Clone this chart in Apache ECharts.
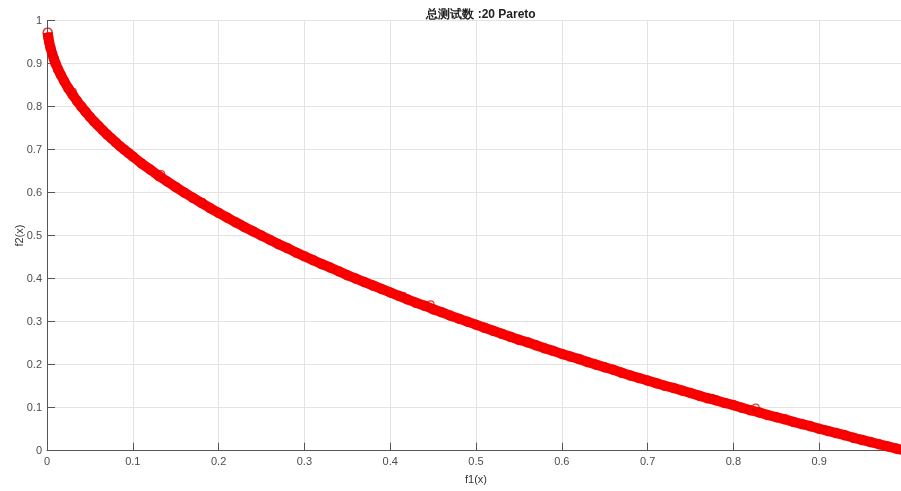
<!DOCTYPE html>
<html>
<head>
<meta charset="utf-8">
<script src="https://cdn.jsdelivr.net/npm/echarts@6/dist/echarts.min.js"></script>
<style>html,body{margin:0;padding:0;background:#fff;}#c{width:901px;height:491px;}</style>
</head>
<body>
<div id="c"></div>
<script>
// Pareto front points
var f1 = [0.0008,0.0015,0.0025,0.004,0.006,0.008,0.01,0.013,0.016,0.02,0.025,0.03,0.035,0.04,0.045,0.05,0.055,0.06,0.065,0.07,0.075,0.08,0.085,0.09,0.095,
0.10,0.11,0.12,0.13,0.14,0.15,0.16,0.17,0.18,0.19,0.20,0.21,0.22,0.23,0.24,0.25,0.26,0.27,0.28,0.29,0.30,0.31,0.32,0.33,0.34,0.35,0.36,0.37,0.38,0.39,
0.40,0.41,0.42,0.43,0.44,0.45,0.46,0.47,0.48,0.49,0.50,0.51,0.52,0.53,0.54,0.55,0.56,0.57,0.58,0.59,0.60,0.61,0.62,0.63,0.64,0.65,0.66,0.67,0.68,0.69,
0.70,0.71,0.72,0.73,0.74,0.75,0.76,0.77,0.78,0.79,0.80,0.81,0.82,0.83,0.84,0.85,0.86,0.87,0.88,0.89,0.90,0.91,0.92,0.93,0.94,0.95,0.96,0.97,0.98,0.99,1.00];
var f2 = [0.972,0.961,0.950,0.937,0.923,0.911,0.900,0.886,0.874,0.859,0.842,0.827,0.813,0.800,0.788,0.776,0.765,0.755,0.745,0.735,0.726,0.717,0.708,0.700,0.692,
0.684,0.668,0.654,0.639,0.626,0.613,0.600,0.588,0.576,0.564,0.553,0.542,0.531,0.520,0.510,0.500,0.490,0.480,0.471,0.461,0.452,0.443,0.434,0.426,0.417,0.408,0.400,0.392,0.384,0.376,
0.368,0.360,0.352,0.344,0.337,0.329,0.322,0.314,0.307,0.300,0.293,0.286,0.279,0.272,0.265,0.258,0.252,0.245,0.238,0.232,0.225,0.219,0.213,0.206,0.200,0.194,0.188,0.181,0.175,0.169,
0.163,0.157,0.151,0.146,0.140,0.134,0.128,0.122,0.117,0.111,0.106,0.100,0.094,0.089,0.083,0.078,0.073,0.067,0.062,0.057,0.051,0.046,0.041,0.036,0.030,0.025,0.020,0.015,0.010,0.005,0.000];
// scattered individual circles slightly off the band
var outF1 = [0.006,0.03,0.133,0.181,0.225,0.415,0.447,0.775,0.826,0.905];
var outF2 = [0.925,0.835,0.643,0.578,0.528,0.360,0.340,0.123,0.100,0.050];
var xTicks = [0,0.1,0.2,0.3,0.4,0.5,0.6,0.7,0.8,0.9,1];
var titleText = '总测试数 :20 Pareto';

var front = f1.map(function(v,i){return [v,f2[i]];});
var extra = outF1.map(function(v,i){return [v,outF2[i]];});
var chart = echarts.init(document.getElementById('c'));
var axisCol = '#555555';
var labelStyle = {color:'#4d4d4d', fontSize:11, fontFamily:'Liberation Sans'};
chart.setOption({
  animation:false,
  title:{text:titleText,left:476,textAlign:'center',top:4,textStyle:{fontSize:12,fontWeight:'bold',color:'#222',fontFamily:'Liberation Sans'}},
  grid:{left:47,right:-4,top:20.5,bottom:40.3,containLabel:false,outerBoundsMode:'none'},
  xAxis:{type:'value',min:0,max:1,interval:0.1,name:'f1(x)',nameLocation:'middle',nameGap:24,nameMoveOverlap:false,
    nameTextStyle:{color:'#333',fontSize:11,fontFamily:'Liberation Sans'},
    axisLine:{show:true,onZero:false,lineStyle:{color:axisCol,width:1}},
    axisTick:{show:true,inside:true,length:8,lineStyle:{color:axisCol}},
    axisLabel:Object.assign({margin:6,formatter:function(v){return String(+v.toFixed(1));}},labelStyle),
    splitLine:{show:true,lineStyle:{color:'#e3e3e3',width:1}}},
  yAxis:{type:'value',min:0,max:1,interval:0.1,name:'f2(x)',nameLocation:'middle',nameGap:22,nameRotate:90,nameMoveOverlap:false,
    nameTextStyle:{color:'#333',fontSize:11,fontFamily:'Liberation Sans'},
    axisLine:{show:true,onZero:false,lineStyle:{color:axisCol,width:1}},
    axisTick:{show:true,inside:true,length:8,lineStyle:{color:axisCol}},
    axisLabel:Object.assign({margin:5,formatter:function(v){return String(+v.toFixed(1));}},labelStyle),
    splitLine:{show:true,lineStyle:{color:'#e3e3e3',width:1}}},
  series:[
    {type:'line',data:front,showSymbol:false,symbol:'none',smooth:false,lineStyle:{color:'#ff0000',width:10},z:2},
    {type:'scatter',data:front,symbol:'circle',symbolSize:9,itemStyle:{color:'rgba(0,0,0,0)',borderColor:'#ee0000',borderWidth:1.5},z:3},
    {type:'scatter',data:extra,symbol:'circle',symbolSize:7,itemStyle:{color:'rgba(0,0,0,0)',borderColor:'#e00000',borderWidth:1.2},z:3}
  ]
});
</script>
</body>
</html>
